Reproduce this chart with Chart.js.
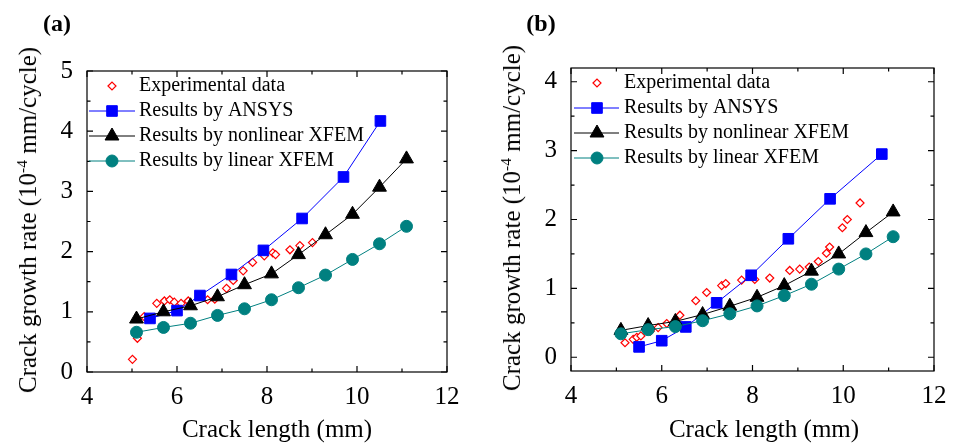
<!DOCTYPE html>
<html>
<head>
<meta charset="utf-8">
<script src="https://cdn.jsdelivr.net/npm/chart.js@4.4.1/dist/chart.umd.min.js"></script>
<style>
  body { margin: 0; background: #fff; font-family: "Liberation Serif", "Times New Roman", serif; }
  #wrap { position: relative; width: 958px; height: 444px; overflow: hidden; }
  .panel { position: absolute; top: 0; width: 479px; height: 444px; }
  .lbl { position: absolute; font-weight: bold; font-size: 24px; transform: translate(-50%, -50%); }
  .ytitle { position: absolute; white-space: nowrap; font-size: 25px; transform: translate(-50%, -50%) rotate(-90deg); }
  .ytitle sup { font-size: 0.62em; vertical-align: baseline; position: relative; top: -0.55em; }
  .xtitle { position: absolute; white-space: nowrap; font-size: 25px; transform: translate(-50%, -50%); }
</style>
</head>
<body>
<div id="wrap">
  <div class="panel" style="left:0"><canvas id="chartA" width="479" height="444"></canvas></div>
  <div class="panel" style="left:479px"><canvas id="chartB" width="479" height="444"></canvas></div>
  <div class="lbl" style="left:57px;top:23px">(a)</div>
  <div class="lbl" style="left:541px;top:23px">(b)</div>
  <div class="ytitle" style="left:28px;top:220px">Crack growth rate (10<sup>-4</sup> mm/cycle)</div>
  <div class="ytitle" style="left:512px;top:218px">Crack growth rate (10<sup>-4</sup> mm/cycle)</div>
  <div class="xtitle" style="left:277px;top:429px">Crack length (mm)</div>
  <div class="xtitle" style="left:764px;top:429px">Crack length (mm)</div>
</div>
<script>
// series labels
const seriesNames = ['Experimental data', 'Results by ANSYS', 'Results by nonlinear XFEM', 'Results by linear XFEM'];

// shared axis ticks
const xTicks = [4, 6, 8, 10, 12];
const xMinor = [5, 7, 9, 11];
const xfemX = [5.1, 5.7, 6.3, 6.9, 7.5, 8.1, 8.7, 9.3, 9.9, 10.5, 11.1];

// panel (a)
const aYTicks = [0, 1, 2, 3, 4, 5];
const aYMinor = [0.5, 1.5, 2.5, 3.5, 4.5];
const aExpX = [5.01, 5.12, 5.27, 5.55, 5.72, 5.84, 5.94, 6.09, 6.25, 6.68, 6.84, 7.10, 7.25, 7.47, 7.68, 7.94, 8.13, 8.19, 8.51, 8.73, 9.01];
const aExpY = [0.21, 0.56, 0.92, 1.14, 1.18, 1.20, 1.16, 1.14, 1.18, 1.20, 1.21, 1.39, 1.52, 1.68, 1.82, 1.93, 1.98, 1.95, 2.03, 2.10, 2.15];
const aAnsysX = [5.4, 6.0, 6.51, 7.21, 7.92, 8.78, 9.70, 10.52];
const aAnsysY = [0.89, 1.02, 1.27, 1.62, 2.02, 2.55, 3.24, 4.17];
const aNonlinY = [0.88, 1.00, 1.10, 1.25, 1.45, 1.63, 1.95, 2.28, 2.62, 3.07, 3.54];
const aLinY = [0.66, 0.74, 0.81, 0.94, 1.05, 1.20, 1.40, 1.61, 1.87, 2.13, 2.42];

// panel (b)
const bYTicks = [0, 1, 2, 3, 4];
const bYMinor = [0.5, 1.5, 2.5, 3.5];
const bExpX = [5.19, 5.37, 5.45, 5.54, 5.75, 5.92, 6.11, 6.40, 6.75, 6.99, 7.32, 7.41, 7.76, 8.05, 8.38, 8.82, 9.04, 9.25, 9.45, 9.63, 9.70, 9.98, 10.09, 10.37];
const bExpY = [0.21, 0.26, 0.29, 0.31, 0.38, 0.43, 0.49, 0.61, 0.82, 0.94, 1.04, 1.07, 1.12, 1.13, 1.15, 1.26, 1.28, 1.31, 1.39, 1.51, 1.60, 1.88, 2.00, 2.24];
const bAnsysX = [5.5, 6.0, 6.53, 7.21, 7.97, 8.79, 9.71, 10.85];
const bAnsysY = [0.15, 0.24, 0.44, 0.79, 1.19, 1.72, 2.30, 2.95];
const bNonlinY = [0.39, 0.46, 0.52, 0.62, 0.74, 0.87, 1.04, 1.25, 1.50, 1.81, 2.11];
const bLinY = [0.34, 0.40, 0.445, 0.53, 0.63, 0.745, 0.895, 1.06, 1.28, 1.50, 1.75];

const FONT = '"Liberation Serif", "Times New Roman", serif';

const pts = (xs, ys) => xs.map((x, i) => ({ x, y: ys[i] }));

// box with inward ticks on all four sides
const framePlugin = {
  id: 'frame',
  afterDatasetsDraw(chart, args, o) {
    const { ctx, chartArea: a, scales: { x, y } } = chart;
    ctx.save();
    ctx.strokeStyle = '#000';
    ctx.lineWidth = 1.2;
    ctx.strokeRect(a.left, a.top, a.right - a.left, a.bottom - a.top);
    ctx.beginPath();
    const vt = (v, len) => {
      const px = x.getPixelForValue(v);
      ctx.moveTo(px, a.bottom); ctx.lineTo(px, a.bottom - len);
      ctx.moveTo(px, a.top); ctx.lineTo(px, a.top + len);
    };
    const ht = (v, len) => {
      const py = y.getPixelForValue(v);
      ctx.moveTo(a.left, py); ctx.lineTo(a.left + len, py);
      ctx.moveTo(a.right, py); ctx.lineTo(a.right - len, py);
    };
    xTicks.forEach(v => vt(v, 6));
    xMinor.forEach(v => vt(v, 3.5));
    o.yTicks.forEach(v => ht(v, 6));
    o.yMinor.forEach(v => ht(v, 3.5));
    ctx.stroke();
    ctx.restore();
  }
};

// legend: line sample + marker + text, inside the plot
const legendPlugin = {
  id: 'boxLegend',
  afterDraw(chart, args, o) {
    const ctx = chart.ctx;
    ctx.save();
    ctx.font = '20px ' + FONT;
    ctx.textBaseline = 'middle';
    chart.data.datasets.forEach((ds, i) => {
      const y = o.top + i * o.gap;
      if (ds.showLine) {
        ctx.strokeStyle = ds.borderColor;
        ctx.lineWidth = ds.borderWidth;
        ctx.beginPath();
        ctx.moveTo(o.x0, y); ctx.lineTo(o.x1, y);
        ctx.stroke();
      }
      ctx.fillStyle = ds.pointBackgroundColor;
      ctx.strokeStyle = ds.pointBorderColor;
      ctx.lineWidth = ds.pointBorderWidth;
      Chart.helpers.drawPoint(ctx, {
        pointStyle: ds.pointStyle, radius: ds.pointRadius, rotation: 0, borderWidth: ds.pointBorderWidth
      }, o.mx, y);
      ctx.fillStyle = '#000';
      ctx.fillText(ds.label, o.tx, y);
    });
    ctx.restore();
  }
};

function makeDatasets(expX, expY, ansysX, ansysY, nonY, linY) {
  return [
    {
      label: seriesNames[0], data: pts(expX, expY), showLine: false, order: 4,
      pointStyle: 'rectRot', pointRadius: 4, pointBorderWidth: 1.2,
      pointBackgroundColor: '#ffffff', pointBorderColor: '#ff0000', borderColor: '#ff0000', borderWidth: 1
    },
    {
      label: seriesNames[1], data: pts(ansysX, ansysY), showLine: true, order: 3,
      pointStyle: 'rect', pointRadius: 7.5, pointBorderWidth: 1,
      pointBackgroundColor: '#0000ff', pointBorderColor: '#0000ff', borderColor: '#0000ff', borderWidth: 1
    },
    {
      label: seriesNames[2], data: pts(xfemX, nonY), showLine: true, order: 2,
      pointStyle: 'triangle', pointRadius: 8, pointBorderWidth: 1,
      pointBackgroundColor: '#000000', pointBorderColor: '#000000', borderColor: '#000000', borderWidth: 1
    },
    {
      label: seriesNames[3], data: pts(xfemX, linY), showLine: true, order: 1,
      pointStyle: 'circle', pointRadius: 6, pointBorderWidth: 1,
      pointBackgroundColor: '#008080', pointBorderColor: '#008080', borderColor: '#008080', borderWidth: 1
    }
  ];
}

function makeChart(id, datasets, yMin, yMax, yTicks, yMinor, box, legend) {
  return new Chart(document.getElementById(id), {
    type: 'scatter',
    data: { datasets },
    options: {
      responsive: false,
      animation: false,
      layout: { padding: { left: 0, right: box.right, top: box.top, bottom: 0 } },
      plugins: {
        legend: { display: false },
        tooltip: { enabled: false },
        frame: { yTicks, yMinor },
        boxLegend: legend
      },
      scales: {
        x: {
          type: 'linear', min: 4, max: 12,
          afterBuildTicks: s => { s.ticks = xTicks.map(v => ({ value: v })); },
          afterFit: s => { s.height = box.xh; },
          grid: { display: false, drawTicks: false },
          border: { display: false },
          ticks: { color: '#000', font: { family: FONT, size: 25 }, padding: 10, maxRotation: 0 }
        },
        y: {
          type: 'linear', min: yMin, max: yMax,
          afterBuildTicks: s => { s.ticks = yTicks.map(v => ({ value: v })); },
          afterFit: s => { s.width = box.yw; },
          grid: { display: false, drawTicks: false },
          border: { display: false },
          ticks: { color: '#000', font: { family: FONT, size: 25 }, padding: 14 }
        }
      }
    },
    plugins: [framePlugin, legendPlugin]
  });
}

makeChart('chartA', makeDatasets(aExpX, aExpY, aAnsysX, aAnsysY, aNonlinY, aLinY),
  0, 5, aYTicks, aYMinor,
  { right: 32, top: 71, xh: 72, yw: 87 },
  { top: 86, gap: 25, x0: 89, x1: 135, mx: 112, tx: 139 });

makeChart('chartB', makeDatasets(bExpX, bExpY, bAnsysX, bAnsysY, bNonlinY, bLinY),
  -0.2, 4.2, bYTicks, bYMinor,
  { right: 24, top: 68, xh: 73, yw: 92 },
  { top: 83, gap: 25, x0: 95, x1: 140, mx: 118, tx: 145 });
</script>
</body>
</html>
